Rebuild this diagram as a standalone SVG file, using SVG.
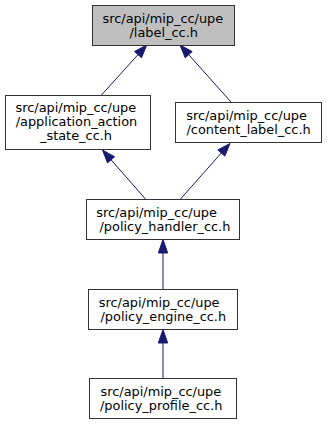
<svg xmlns="http://www.w3.org/2000/svg" width="327" height="424" viewBox="0 0 327 424">
<style>
  .box { fill: #ffffff; stroke: #333333; stroke-width: 1; }
  .root { fill: #bfbfbf; stroke: #333333; stroke-width: 1; }
  .lbl { font-family: "DejaVu Sans", sans-serif; font-size: 12.9px; fill: #000000; }
  .edge { stroke: #191970; stroke-width: 1; fill: none; }
  .head { fill: #191970; stroke: #191970; stroke-width: 1; }
</style>
<rect width="327" height="424" fill="#ffffff"/>

<g id="connectors">
  <!-- application_action_state_cc.h -> label_cc.h -->
  <line class="edge" x1="101.5" y1="95" x2="138" y2="54.6"/>
  <polygon class="head" points="146.7,45 141.5,57.8 134.5,51.5"/>
  <!-- content_label_cc.h -> label_cc.h -->
  <line class="edge" x1="231" y1="102" x2="188.7" y2="54.7"/>
  <polygon class="head" points="180,45 192.2,51.6 185.2,57.8"/>
  <!-- policy_handler_cc.h -> application_action_state_cc.h -->
  <line class="edge" x1="145.5" y1="199" x2="111" y2="159.8"/>
  <polygon class="head" points="102.5,150 114.6,156.8 107.5,162.9"/>
  <!-- policy_handler_cc.h -> content_label_cc.h -->
  <line class="edge" x1="180.5" y1="199" x2="221.3" y2="153"/>
  <polygon class="head" points="230,143.5 224.8,156.1 217.8,149.9"/>
  <!-- policy_engine_cc.h -> policy_handler_cc.h -->
  <line class="edge" x1="163" y1="289" x2="163" y2="252"/>
  <polygon class="head" points="163,239.5 158.3,253 167.7,253"/>
  <!-- policy_profile_cc.h -> policy_engine_cc.h -->
  <line class="edge" x1="163" y1="378" x2="163" y2="342"/>
  <polygon class="head" points="163,329.5 158.3,343 167.7,343"/>
</g>

<g id="node_label_cc">
  <rect class="root" x="92.5" y="5.5" width="142" height="40"/>
  <text class="lbl" x="102.5" y="23">src/api/mip_cc/upe</text>
  <text class="lbl" x="129.5" y="37">/label_cc.h</text>
</g>

<g id="node_application_action_state_cc">
  <rect class="box" x="5.5" y="95.5" width="145" height="54"/>
  <text class="lbl" x="15.5" y="112.2">src/api/mip_cc/upe</text>
  <text class="lbl" x="15.7" y="126.2">/application_action</text>
  <text class="lbl" x="40" y="140.2">_state_cc.h</text>
</g>

<g id="node_content_label_cc">
  <rect class="box" x="175.5" y="102.5" width="146" height="40"/>
  <text class="lbl" x="186.2" y="119.5">src/api/mip_cc/upe</text>
  <text class="lbl" x="186.5" y="133.5">/content_label_cc.h</text>
</g>

<g id="node_policy_handler_cc">
  <rect class="box" x="86.5" y="199.5" width="153" height="40"/>
  <text class="lbl" x="96.2" y="216.5">src/api/mip_cc/upe</text>
  <text class="lbl" x="99.5" y="230.5">/policy_handler_cc.h</text>
</g>

<g id="node_policy_engine_cc">
  <rect class="box" x="88.5" y="289.5" width="149" height="40"/>
  <text class="lbl" x="98.8" y="306.5">src/api/mip_cc/upe</text>
  <text class="lbl" x="100.5" y="320.5">/policy_engine_cc.h</text>
</g>

<g id="node_policy_profile_cc">
  <rect class="box" x="89.5" y="378.5" width="147" height="40"/>
  <text class="lbl" x="100.5" y="395.5">src/api/mip_cc/upe</text>
  <text class="lbl" x="100" y="409.5">/policy_profile_cc.h</text>
</g>
</svg>
